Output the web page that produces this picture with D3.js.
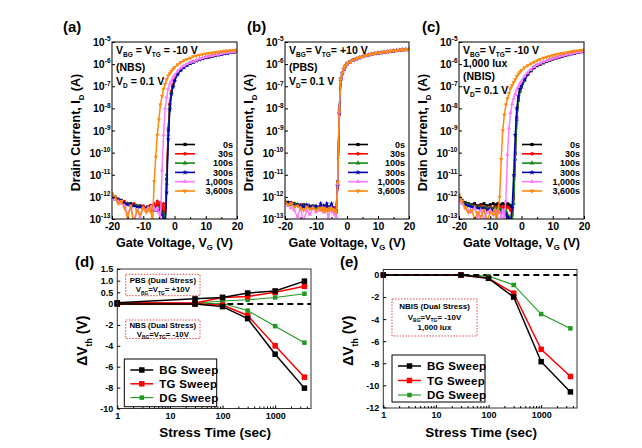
<!DOCTYPE html>
<html><head><meta charset="utf-8">
<script src="https://cdn.jsdelivr.net/npm/d3@7"></script>
<style>
body{margin:0;background:#fff;}
svg{display:block;font-family:"Liberation Sans",Arial,sans-serif;font-weight:bold;}
text{white-space:pre;}
</style></head><body>
<svg id="chart" width="642" height="448"></svg>
<script>
// ---------- DATA ----------
// Gate voltage grid (V) shared by all transfer curves
const vgGrid = [-20,-19,-18,-17,-16,-15,-14,-13,-12,-11,-10,-9,
  -8.5,-8,-7.5,-7,-6.5,-6,-5.5,-5,-4.5,-4,-3.5,-3,-2.5,-2,-1.5,-1,-0.5,0,
  1,2,3,4,5,6,7,8,9,10,11,12,13,14,15,16,17,18,19,20];
const stressLabels = ["0s","30s","100s","300s","1,000s","3,600s"];
const yDecades = [-13,-12,-11,-10,-9,-8,-7,-6,-5];
const xTicksVG = [-20,-10,0,10,20];

// log10(I_D) per curve, panel (a) NBS
const a0s = [-11.9,-12.0,-12.1,-12.15,-12.25,-12.3,-12.3,-12.35,-12.4,-12.4,-12.45,-12.5,
  -12.45,-12.5,-12.4,-12.5,-12.45,-12.5,-12.4,-12.5,-12.45,-12.6,-12.7,-13.1,-11.2,-9.0,-7.84,-7.25,-6.95,-6.7,
  -6.42,-6.25,-6.12,-6.03,-5.95,-5.9,-5.84,-5.79,-5.74,-5.7,-5.67,-5.64,-5.61,-5.58,-5.55,-5.52,-5.5,-5.47,-5.45,-5.42];
const a30s = [-11.95,-12.05,-12.1,-12.2,-12.2,-12.3,-12.35,-12.3,-12.4,-12.45,-12.4,-12.5,
  -12.5,-12.4,-12.5,-12.45,-12.3,-12.5,-12.2,-12.4,-12.25,-12.5,-12.3,-13.0,-11.0,-8.9,-7.8,-7.22,-6.93,-6.68,
  -6.41,-6.24,-6.11,-6.02,-5.95,-5.89,-5.84,-5.79,-5.74,-5.7,-5.67,-5.64,-5.61,-5.58,-5.55,-5.52,-5.5,-5.47,-5.45,-5.42];
const a100s = [-12.0,-12.05,-12.15,-12.2,-12.3,-12.3,-12.35,-12.4,-12.4,-12.45,-12.5,-12.5,
  -12.5,-12.55,-12.5,-12.6,-12.5,-12.55,-12.6,-12.5,-12.6,-12.7,-12.8,-13.2,-11.4,-9.2,-7.95,-7.3,-7.0,-6.74,
  -6.45,-6.27,-6.14,-6.05,-5.97,-5.91,-5.85,-5.8,-5.75,-5.71,-5.68,-5.64,-5.61,-5.58,-5.55,-5.52,-5.5,-5.47,-5.45,-5.42];
const a300s = [-12.0,-12.1,-12.15,-12.25,-12.3,-12.35,-12.35,-12.4,-12.45,-12.45,-12.5,-12.5,
  -12.55,-12.5,-12.6,-12.55,-12.6,-12.5,-12.6,-12.65,-12.7,-12.8,-13.0,-13.3,-11.8,-9.4,-8.05,-7.35,-7.03,-6.76,
  -6.46,-6.28,-6.15,-6.05,-5.97,-5.91,-5.85,-5.8,-5.75,-5.71,-5.68,-5.64,-5.61,-5.58,-5.55,-5.52,-5.5,-5.47,-5.45,-5.42];
const a1000s = [-11.9,-12.1,-12.2,-12.3,-12.4,-12.8,-12.5,-13.1,-12.6,-12.9,-12.5,-12.6,
  -12.5,-12.6,-12.45,-12.55,-12.5,-12.6,-12.5,-12.7,-13.1,-10.8,-9.2,-8.0,-7.5,-7.1,-6.9,-6.75,-6.62,-6.5,
  -6.32,-6.18,-6.08,-6.0,-5.93,-5.88,-5.82,-5.77,-5.72,-5.68,-5.65,-5.62,-5.59,-5.56,-5.53,-5.5,-5.48,-5.46,-5.44,-5.41];
const a3600s = [-11.85,-12.0,-12.3,-12.2,-12.5,-12.9,-12.4,-13.2,-12.6,-12.8,-12.5,-12.7,
  -12.6,-12.5,-12.7,-13.1,-11.3,-10.2,-9.2,-8.5,-7.84,-7.45,-7.12,-6.9,-6.7,-6.52,-6.42,-6.32,-6.22,-6.15,
  -6.02,-5.92,-5.84,-5.78,-5.72,-5.66,-5.62,-5.59,-5.56,-5.53,-5.51,-5.49,-5.47,-5.45,-5.43,-5.41,-5.4,-5.38,-5.37,-5.35];

// panel (b) PBS
const b0s = [-12.2,-12.25,-12.3,-12.3,-12.35,-12.4,-12.35,-12.4,-12.45,-12.4,-12.45,-12.5,
  -12.45,-12.5,-12.4,-12.5,-12.45,-12.5,-12.45,-12.5,-12.5,-12.55,-12.6,-11.3,-8.1,-6.65,-6.4,-6.22,-6.08,-5.98,
  -5.89,-5.82,-5.76,-5.71,-5.66,-5.61,-5.58,-5.55,-5.52,-5.5,-5.48,-5.46,-5.44,-5.42,-5.4,-5.38,-5.37,-5.35,-5.34,-5.33];
const b30s = [-12.25,-12.3,-12.25,-12.35,-12.4,-12.35,-12.45,-12.4,-12.5,-12.45,-12.5,-12.45,
  -12.5,-12.45,-12.5,-12.4,-12.5,-12.55,-12.5,-12.45,-12.6,-12.5,-12.7,-11.6,-8.3,-6.7,-6.42,-6.23,-6.09,-5.99,
  -5.9,-5.82,-5.76,-5.71,-5.66,-5.61,-5.58,-5.55,-5.52,-5.5,-5.48,-5.46,-5.44,-5.42,-5.4,-5.38,-5.37,-5.35,-5.34,-5.33];
const b100s = [-12.2,-12.3,-12.35,-12.3,-12.4,-12.45,-12.4,-12.45,-12.5,-12.45,-12.5,-12.55,
  -12.5,-12.55,-12.45,-12.5,-12.6,-12.5,-12.55,-12.5,-12.6,-12.65,-12.7,-11.4,-8.2,-6.68,-6.41,-6.22,-6.08,-5.98,
  -5.89,-5.82,-5.76,-5.71,-5.66,-5.61,-5.58,-5.55,-5.52,-5.5,-5.48,-5.46,-5.44,-5.42,-5.4,-5.38,-5.37,-5.35,-5.34,-5.33];
const b300s = [-12.25,-12.25,-12.3,-12.4,-12.35,-12.4,-12.45,-12.35,-12.4,-12.5,-12.4,-12.5,
  -12.3,-12.5,-12.4,-12.55,-12.3,-12.5,-12.45,-12.3,-12.5,-12.6,-12.65,-11.5,-8.2,-6.68,-6.41,-6.22,-6.08,-5.98,
  -5.89,-5.82,-5.76,-5.71,-5.66,-5.61,-5.58,-5.55,-5.52,-5.5,-5.48,-5.46,-5.44,-5.42,-5.4,-5.38,-5.37,-5.35,-5.34,-5.33];
const b1000s = [-12.3,-12.4,-12.5,-12.6,-12.9,-12.5,-13.1,-12.6,-12.8,-12.5,-12.7,-12.6,
  -12.6,-12.5,-12.7,-12.55,-12.6,-13.0,-12.6,-12.5,-12.7,-12.8,-12.9,-11.4,-8.15,-6.66,-6.4,-6.22,-6.08,-5.98,
  -5.89,-5.82,-5.76,-5.71,-5.66,-5.61,-5.58,-5.55,-5.52,-5.5,-5.48,-5.46,-5.44,-5.42,-5.4,-5.38,-5.37,-5.35,-5.34,-5.33];
const b3600s = [-12.2,-12.35,-12.3,-12.45,-12.4,-12.5,-12.6,-12.45,-12.55,-12.5,-12.6,-12.5,
  -12.55,-12.6,-12.5,-12.65,-12.55,-12.6,-12.5,-12.6,-12.55,-12.6,-12.7,-11.35,-8.1,-6.65,-6.39,-6.21,-6.07,-5.97,
  -5.88,-5.81,-5.75,-5.7,-5.65,-5.61,-5.57,-5.54,-5.52,-5.49,-5.47,-5.45,-5.43,-5.41,-5.39,-5.38,-5.36,-5.35,-5.34,-5.33];

// panel (c) NBIS
const c0s = [-12.0,-12.15,-12.25,-12.3,-12.35,-12.3,-12.4,-12.35,-12.3,-12.4,-12.35,-12.3,
  -12.4,-12.35,-12.3,-12.4,-12.35,-12.3,-12.35,-12.4,-12.3,-12.35,-12.4,-12.6,-12.0,-10.0,-8.4,-7.6,-7.2,-7.02,
  -6.72,-6.46,-6.3,-6.16,-6.07,-6.0,-5.94,-5.88,-5.82,-5.77,-5.72,-5.68,-5.64,-5.6,-5.57,-5.53,-5.5,-5.47,-5.44,-5.42];
const c30s = [-12.05,-12.2,-12.3,-12.35,-12.4,-12.4,-12.45,-12.4,-12.45,-12.5,-12.45,-12.5,
  -12.45,-12.5,-12.4,-12.5,-12.45,-12.5,-12.4,-12.5,-12.45,-12.5,-12.6,-12.8,-12.1,-10.1,-8.45,-7.62,-7.22,-7.03,
  -6.72,-6.46,-6.3,-6.16,-6.07,-6.0,-5.94,-5.88,-5.82,-5.77,-5.72,-5.68,-5.64,-5.6,-5.57,-5.53,-5.5,-5.47,-5.44,-5.42];
const c100s = [-12.05,-12.2,-12.3,-12.35,-12.4,-12.45,-12.45,-12.5,-12.45,-12.5,-12.5,-12.55,
  -12.5,-12.55,-12.5,-12.6,-12.55,-12.6,-12.7,-12.6,-12.8,-12.9,-13.0,-13.2,-12.3,-10.3,-8.5,-7.65,-7.24,-7.05,
  -6.73,-6.47,-6.3,-6.16,-6.07,-6.0,-5.94,-5.88,-5.82,-5.77,-5.72,-5.68,-5.64,-5.6,-5.57,-5.53,-5.5,-5.47,-5.44,-5.42];
const c300s = [-12.1,-12.25,-12.35,-12.4,-12.45,-12.5,-12.5,-12.55,-12.5,-12.6,-12.55,-12.6,
  -12.6,-12.65,-12.6,-12.7,-12.65,-12.7,-12.8,-12.75,-12.9,-13.0,-13.2,-12.5,-11.0,-9.2,-8.0,-7.45,-7.12,-6.96,
  -6.68,-6.43,-6.28,-6.15,-6.06,-5.99,-5.93,-5.87,-5.81,-5.76,-5.72,-5.68,-5.64,-5.6,-5.57,-5.53,-5.5,-5.47,-5.44,-5.42];
const c1000s = [-12.1,-12.3,-12.5,-12.6,-12.7,-12.5,-12.9,-12.6,-13.0,-12.7,-12.6,-12.8,
  -12.6,-12.9,-12.6,-12.7,-12.9,-12.6,-13.0,-12.2,-10.1,-8.9,-8.2,-7.8,-7.55,-7.35,-7.15,-7.0,-6.88,-6.76,
  -6.55,-6.38,-6.24,-6.12,-6.03,-5.96,-5.9,-5.85,-5.8,-5.75,-5.7,-5.66,-5.62,-5.59,-5.55,-5.52,-5.49,-5.46,-5.44,-5.41];
const c3600s = [-11.9,-12.2,-12.5,-12.7,-12.6,-13.0,-12.7,-12.9,-12.6,-13.1,-12.7,-12.8,
  -12.6,-12.9,-12.7,-12.0,-10.3,-9.0,-8.3,-7.84,-7.55,-7.32,-7.1,-6.95,-6.82,-6.7,-6.55,-6.45,-6.36,-6.28,
  -6.15,-6.06,-5.98,-5.9,-5.84,-5.78,-5.72,-5.68,-5.64,-5.6,-5.57,-5.54,-5.51,-5.48,-5.46,-5.43,-5.41,-5.39,-5.37,-5.35];

// panel (d): threshold voltage shift under PBS / NBS (dual stress)
const stressTime = [1, 30, 100, 300, 1000, 3600];
const sweepNames = ["BG Sweep", "TG Sweep", "DG Sweep"];
const dPbsBG = [0.05, 0.22, 0.28, 0.47, 0.56, 0.98];
const dPbsTG = [0.05, 0.04, 0.28, 0.32, 0.5, 0.76];
const dPbsDG = [0.05, 0.03, 0.13, 0.18, 0.28, 0.44];
const dNbsBG = [0, 0, -0.25, -1.4, -4.8, -8.05];
const dNbsTG = [0, 0, -0.1, -1.1, -4.0, -7.0];
const dNbsDG = [0, 0, 0.02, -0.63, -2.12, -3.7];
const dTicksY = [1.5, 1.0, 0.5, 0, -2, -4, -6, -8, -10];

// panel (e): NBIS
const eBG = [0, 0, -0.3, -2.0, -7.86, -10.6];
const eTG = [0, 0, -0.3, -1.65, -6.74, -9.2];
const eDG = [0, 0, -0.1, -0.9, -3.54, -4.84];
const eTicksY = [0, -2, -4, -6, -8, -10, -12];
const timeTicks = [1, 10, 100, 1000];

// ---------- DRAWING ----------
const FONT = "Liberation Sans, Arial, sans-serif";
const svg = d3.select("#chart");
const colors = ["#000000", "#ff0000", "#138a13", "#0000b4", "#ff7cff", "#ff8a10"];
const symTypes = [d3.symbolSquare, d3.symbolCircle, d3.symbolTriangle, d3.symbolStar, d3.symbolTriangle, d3.symbolTriangle];
const symRot = [0, 0, 0, 0, 0, 180];
const sweepColors = ["#000000", "#ff0000", "#1f9a1f"];

function rich(text, parts, size) {
  let shift = 0;
  parts.forEach(p => {
    const isObj = typeof p !== "string";
    const target = isObj ? (p.sub !== undefined ? size * 0.3 : -size * 0.45) : 0;
    const ts = text.append("tspan").text(isObj ? (p.sub !== undefined ? p.sub : p.sup) : p)
      .attr("font-size", isObj ? size * 0.62 : size);
    const dy = target - shift;
    if (dy) ts.attr("dy", dy);
    shift = target;
  });
  return text;
}

const TOP = 42, BOT = 219;
const tPanels = [
  { key: "(a)", left: 112, right: 237, keyX: 63, data: [a0s, a30s, a100s, a300s, a1000s, a3600s],
    notes: [["V", {sub: "BG"}, " = V", {sub: "TG"}, " = -10 V"], ["(NBS)"], ["V", {sub: "D"}, " = 0.1 V"]],
    noteY: [53.5, 71, 84.5] },
  { key: "(b)", left: 285, right: 409, keyX: 247, data: [b0s, b30s, b100s, b300s, b1000s, b3600s],
    notes: [["V", {sub: "BG"}, "= V", {sub: "TG"}, "= +10 V"], ["(PBS)"], ["V", {sub: "D"}, "= 0.1 V"]],
    noteY: [53.5, 71, 84.5] },
  { key: "(c)", left: 459, right: 584, keyX: 422, data: [c0s, c30s, c100s, c300s, c1000s, c3600s],
    notes: [["V", {sub: "BG"}, "= V", {sub: "TG"}, "= -10 V"], ["1,000 lux"], ["(NBIS)"], ["V", {sub: "D"}, "= 0.1 V"]],
    noteY: [53.5, 67, 80, 93.5] }
];

tPanels.forEach((p, pi) => {
  const x = d3.scaleLinear().domain([-20, 20]).range([p.left, p.right]);
  const y = d3.scaleLog().domain([1e-13, 1e-5]).range([BOT, TOP]);
  const clipId = "clipT" + pi;
  svg.append("clipPath").attr("id", clipId).append("rect")
    .attr("x", p.left).attr("y", TOP).attr("width", p.right - p.left).attr("height", BOT - TOP);
  const cg = svg.append("g").attr("clip-path", `url(#${clipId})`);
  const line = d3.line().x(d => x(d[0])).y(d => y(d[1]));
  p.data.forEach((vals, i) => {
    const pts = vgGrid.map((v, j) => [v, Math.pow(10, vals[j])]);
    cg.append("path").datum(pts).attr("d", line).attr("fill", "none")
      .attr("stroke", colors[i]).attr("stroke-width", 1.5);
    cg.selectAll(null).data(pts).join("path")
      .attr("transform", d => `translate(${x(d[0])},${y(d[1])}) rotate(${symRot[i]})`)
      .attr("d", d3.symbol(symTypes[i], 8)()).attr("fill", colors[i]);
  });
  // frame
  svg.append("rect").attr("x", p.left).attr("y", TOP).attr("width", p.right - p.left).attr("height", BOT - TOP)
    .attr("fill", "none").attr("stroke", "#000").attr("stroke-width", 1);
  // x axis
  const xa = svg.append("g").attr("transform", `translate(0,${BOT})`)
    .call(d3.axisBottom(x).tickValues(xTicksVG).tickSize(-3).tickPadding(4).tickFormat(d => String(d)));
  xa.select(".domain").remove();
  xa.attr("font-family", FONT).attr("font-size", 10.5).attr("font-weight", "bold");
  const xm = svg.append("g").attr("transform", `translate(0,${BOT})`)
    .call(d3.axisBottom(x).tickValues([-15, -5, 5, 15]).tickSize(-2).tickFormat(""));
  xm.select(".domain").remove();
  // y axis (log decades)
  const ya = svg.append("g").attr("transform", `translate(${p.left},0)`)
    .call(d3.axisLeft(y).tickValues(yDecades.map(e => Math.pow(10, e))).tickSize(-3).tickFormat(""));
  ya.select(".domain").remove();
  yDecades.forEach(e => {
    const t = svg.append("text").attr("x", p.left - 1.5).attr("y", y(Math.pow(10, e)) + 4)
      .attr("text-anchor", "end").attr("font-family", FONT).attr("font-weight", "bold");
    rich(t, ["10", {sup: String(e)}], 10.5);
  });
  // titles
  const xt = svg.append("text").attr("x", (p.left + p.right) / 2).attr("y", 246.5)
    .attr("text-anchor", "middle").attr("font-family", FONT).attr("font-weight", "bold");
  rich(xt, ["Gate Voltage, V", {sub: "G"}, " (V)"], 12.5);
  const ytX = p.left - 32;
  const yt = svg.append("text").attr("transform", `translate(${ytX},${(TOP + BOT) / 2 + 2}) rotate(-90)`)
    .attr("text-anchor", "middle").attr("font-family", FONT).attr("font-weight", "bold");
  rich(yt, ["Drain Current, I", {sub: "D"}, " (A)"], 12.5);
  svg.append("text").attr("x", p.keyX).attr("y", 32).attr("font-family", FONT)
    .attr("font-weight", "bold").attr("font-size", 15).text(p.key);
  // notes
  p.notes.forEach((parts, k) => {
    const t = svg.append("text").attr("x", p.left + 4).attr("y", p.noteY[k])
      .attr("font-family", FONT).attr("font-weight", "bold");
    rich(t, parts, 10.5);
  });
  // legend
  stressLabels.forEach((lab, i) => {
    const ly = 144.5 + i * 9.3;
    const x0 = p.left + 63, x1 = p.left + 83;
    svg.append("line").attr("x1", x0).attr("x2", x1).attr("y1", ly).attr("y2", ly)
      .attr("stroke", colors[i]).attr("stroke-width", 1.6);
    svg.append("path").attr("transform", `translate(${(x0 + x1) / 2},${ly}) rotate(${symRot[i]})`)
      .attr("d", d3.symbol(symTypes[i], 10)()).attr("fill", colors[i]);
    svg.append("text").attr("x", p.right - 4).attr("y", ly + 3.3).attr("text-anchor", "end")
      .attr("font-family", FONT).attr("font-weight", "bold").attr("font-size", 9).text(lab);
  });
});

// ---------- stress-time panels ----------
function stressPanel(o) {
  const x = d3.scaleLog().domain([1, 4800]).range([o.left, o.right]);
  const y = d3.scaleLinear().domain(o.yDomain).range(o.yRange);
  const top = o.yRange[o.yRange.length - 1], bot = o.yRange[0];
  const line = d3.line().x(d => x(d[0])).y(d => y(d[1]));
  const dash = () => svg.append("line").attr("x1", o.left).attr("x2", o.right)
    .attr("y1", y(0)).attr("y2", y(0)).attr("stroke", "#000").attr("stroke-width", 2)
    .attr("stroke-dasharray", "6,4");
  if (o.dashFirst) dash();
  const seriesPts = o.series.map(s => stressTime.map((t, j) => [t, s.vals[j]]));
  o.series.forEach((s, i) => {
    svg.append("path").datum(seriesPts[i]).attr("d", line).attr("fill", "none")
      .attr("stroke", sweepColors[s.c]).attr("stroke-width", s.c === 2 ? 1.1 : 1.5);
  });
  if (!o.dashFirst) dash();
  o.series.forEach((s, i) => {
    const sz = s.c === 2 ? 4.5 : 5.5;
    svg.selectAll(null).data(seriesPts[i]).join("rect")
      .attr("x", d => x(d[0]) - sz / 2).attr("y", d => y(d[1]) - sz / 2)
      .attr("width", sz).attr("height", sz).attr("fill", sweepColors[s.c]);
  });
  // frame
  svg.append("rect").attr("x", o.left).attr("y", top).attr("width", o.right - o.left).attr("height", bot - top)
    .attr("fill", "none").attr("stroke", "#333").attr("stroke-width", 1);
  // axes
  const xa = svg.append("g").attr("transform", `translate(0,${bot})`)
    .call(d3.axisBottom(x).tickValues(timeTicks).tickSize(-3).tickPadding(4).tickFormat(d => String(d)));
  xa.select(".domain").remove();
  xa.attr("font-family", FONT).attr("font-size", 9).attr("font-weight", "bold");
  const minor = [];
  [1, 10, 100, 1000].forEach(dec => { for (let k = 2; k <= 9; k++) if (dec * k <= 4800) minor.push(dec * k); });
  const xm = svg.append("g").attr("transform", `translate(0,${bot})`)
    .call(d3.axisBottom(x).tickValues(minor).tickSize(-2).tickFormat(""));
  xm.select(".domain").remove();
  const ya = svg.append("g").attr("transform", `translate(${o.left},0)`)
    .call(d3.axisLeft(y).tickValues(o.ticks).tickSize(-3).tickPadding(4).tickFormat(o.fmt));
  ya.select(".domain").remove();
  ya.attr("font-family", FONT).attr("font-size", 9).attr("font-weight", "bold");
  // titles
  svg.append("text").attr("x", (o.left + o.right) / 2 + 1).attr("y", 437).attr("text-anchor", "middle")
    .attr("font-family", FONT).attr("font-weight", "bold").attr("font-size", 13.5).text("Stress Time (sec)");
  const yt = svg.append("text").attr("transform", `translate(${o.left - 30},${(top + bot) / 2 + 2}) rotate(-90)`)
    .attr("text-anchor", "middle").attr("font-family", FONT).attr("font-weight", "bold");
  rich(yt, ["\u0394V", {sub: "th"}, " (V)"], 14);
  svg.append("text").attr("x", o.keyX).attr("y", 267).attr("font-family", FONT)
    .attr("font-weight", "bold").attr("font-size", 15).text(o.key);
  // annotation boxes
  o.boxes.forEach(b => {
    svg.append("rect").attr("x", b.x).attr("y", b.y).attr("width", b.w).attr("height", b.h)
      .attr("fill", "none").attr("stroke", "#e04848").attr("stroke-width", 1).attr("stroke-dasharray", "1.5,1.5");
    b.lines.forEach((parts, k) => {
      const t = svg.append("text").attr("x", b.x + b.w / 2).attr("y", b.y + b.ly[k])
        .attr("text-anchor", "middle").attr("font-family", FONT).attr("font-weight", "bold");
      rich(t, parts, b.fs);
    });
  });
  // legend
  const L = o.legend;
  svg.append("rect").attr("x", L.x).attr("y", L.y).attr("width", L.w).attr("height", L.h)
    .attr("fill", "#fff").attr("stroke", "#000").attr("stroke-width", 1);
  sweepNames.forEach((nm, i) => {
    const ly = L.y + L.first + i * L.step;
    svg.append("line").attr("x1", L.x + 6).attr("x2", L.x + 29).attr("y1", ly).attr("y2", ly)
      .attr("stroke", sweepColors[i]).attr("stroke-width", i === 2 ? 1.1 : 1.5);
    const sz = i === 2 ? 4.5 : 5.5;
    svg.append("rect").attr("x", L.x + 17.5 - sz / 2).attr("y", ly - sz / 2).attr("width", sz).attr("height", sz)
      .attr("fill", sweepColors[i]);
    svg.append("text").attr("x", L.x + 35).attr("y", ly + 4.2).attr("font-family", FONT)
      .attr("font-weight", "bold").attr("font-size", 11.5).attr("letter-spacing", 0.3).text(nm);
  });
}

stressPanel({
  key: "(d)", keyX: 75, left: 117.3, right: 311,
  yDomain: [-10, 0, 1.5], yRange: [408.5, 304, 269],
  ticks: dTicksY, fmt: d => (d > 0 ? d.toFixed(1) : String(d)),
  dashFirst: true,
  series: [
    { vals: dPbsDG, c: 2 }, { vals: dNbsDG, c: 2 },
    { vals: dPbsTG, c: 1 }, { vals: dNbsTG, c: 1 },
    { vals: dPbsBG, c: 0 }, { vals: dNbsBG, c: 0 }
  ],
  boxes: [
    { x: 125.7, y: 274.3, w: 74.3, h: 21.4, fs: 7.8, ly: [8.5, 18],
      lines: [["PBS (Dual Stress)"], ["V", {sub: "BG"}, "=V", {sub: "TG"}, "= +10V"]] },
    { x: 125.7, y: 320, w: 74.3, h: 18.5, fs: 7.8, ly: [7.5, 16.5],
      lines: [["NBS (Dual Stress)"], ["V", {sub: "BG"}, "=V", {sub: "TG"}, "= -10V"]] }
  ],
  legend: { x: 124.3, y: 359, w: 92.4, h: 47.7, first: 11, step: 13.8 }
});

stressPanel({
  key: "(e)", keyX: 340, left: 383.3, right: 577,
  yDomain: [-12.06, 0.5], yRange: [408, 269.5],
  ticks: eTicksY, fmt: d => String(d),
  dashFirst: false,
  series: [
    { vals: eDG, c: 2 }, { vals: eTG, c: 1 }, { vals: eBG, c: 0 }
  ],
  boxes: [
    { x: 392, y: 299, w: 85, h: 37, fs: 8, ly: [10, 20.5, 31],
      lines: [["NBIS (Dual Stress)"], ["V", {sub: "BG"}, "=V", {sub: "TG"}, "= -10V"], ["1,000 lux"]] }
  ],
  legend: { x: 392, y: 355, w: 93, h: 47, first: 11, step: 14.5 }
});
</script></body></html>
